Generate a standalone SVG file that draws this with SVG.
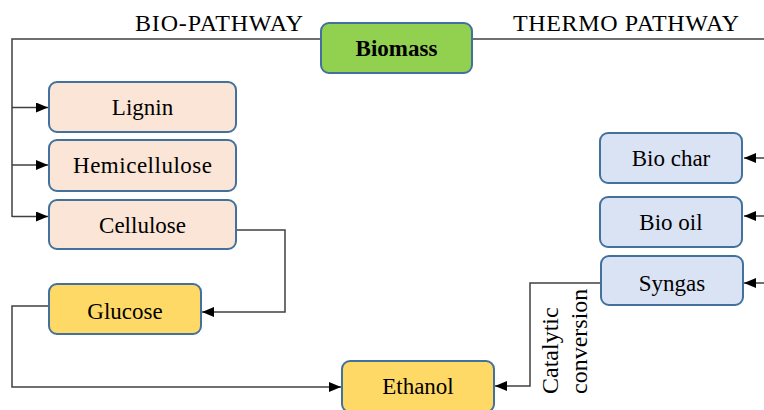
<svg xmlns="http://www.w3.org/2000/svg" width="764" height="410" viewBox="0 0 764 410">
<style>
.box{stroke:#41719C;stroke-width:2}
.peach{fill:#FBE5D6}
.blue{fill:#DAE3F3}
.yellow{fill:#FFD966}
.green{fill:#92D050}
.lbl{font-family:"Liberation Serif","Times New Roman",serif;font-size:23px;fill:#000;text-anchor:middle}
.hdr{font-family:"Liberation Serif","Times New Roman",serif;font-size:24px;fill:#000}
.ln{fill:none;stroke:#404040;stroke-width:1.5}
</style>
<defs>
<marker id="ah" markerWidth="12" markerHeight="10" refX="12" refY="5" orient="auto" markerUnits="userSpaceOnUse">
<path d="M0,0 L12,5 L0,10 Z" fill="#000"/>
</marker>
</defs>
<text class="hdr" x="135" y="31" textLength="168">BIO-PATHWAY</text>
<text class="hdr" x="513" y="31" textLength="226">THERMO PATHWAY</text>
<g id="connectors">
<path class="ln" d="M321,39 H12 V217"/>
<path class="ln" d="M472,39 H764"/>
<path class="ln" d="M12,107.5 H48" marker-end="url(#ah)"/>
<path class="ln" d="M12,165 H48" marker-end="url(#ah)"/>
<path class="ln" d="M12,216.5 H48" marker-end="url(#ah)"/>
<path class="ln" d="M236,230 H285 V312 H202" marker-end="url(#ah)"/>
<path class="ln" d="M49,306 H12 V387 H341" marker-end="url(#ah)"/>
<path class="ln" d="M600,283 H530 V386 H495" marker-end="url(#ah)"/>
<path class="ln" d="M764,158 H744" marker-end="url(#ah)"/>
<path class="ln" d="M764,216 H744" marker-end="url(#ah)"/>
<path class="ln" d="M764,283 H744" marker-end="url(#ah)"/>
<text class="hdr" transform="translate(558,394) rotate(-90)">Catalytic</text>
<text class="hdr" transform="translate(587,394) rotate(-90)">conversion</text>
</g>
<g id="biomass"><rect class="box green" x="321" y="23" width="151" height="50" rx="8"/><text class="lbl" x="396.5" y="56" font-weight="bold">Biomass</text></g>
<g id="lignin"><rect class="box peach" x="49" y="82" width="187" height="50" rx="8"/><text class="lbl" x="142.5" y="115">Lignin</text></g>
<g id="hemicellulose"><rect class="box peach" x="49" y="140" width="187" height="51" rx="8"/><text class="lbl" x="142.5" y="173" textLength="139">Hemicellulose</text></g>
<g id="cellulose"><rect class="box peach" x="49" y="200" width="187" height="49" rx="8"/><text class="lbl" x="142.5" y="233">Cellulose</text></g>
<g id="glucose"><rect class="box yellow" x="49" y="284" width="152" height="50" rx="8"/><text class="lbl" x="125" y="319">Glucose</text></g>
<g id="ethanol"><rect class="box yellow" x="342" y="361" width="152" height="51" rx="8"/><text class="lbl" x="418" y="394">Ethanol</text></g>
<g id="biochar"><rect class="box blue" x="600" y="133" width="142" height="50" rx="8"/><text class="lbl" x="671" y="166">Bio char</text></g>
<g id="biooil"><rect class="box blue" x="600" y="197" width="142" height="50" rx="8"/><text class="lbl" x="671" y="230">Bio oil</text></g>
<g id="syngas"><rect class="box blue" x="601" y="256" width="142" height="49" rx="8"/><text class="lbl" x="672" y="291">Syngas</text></g>
</svg>
